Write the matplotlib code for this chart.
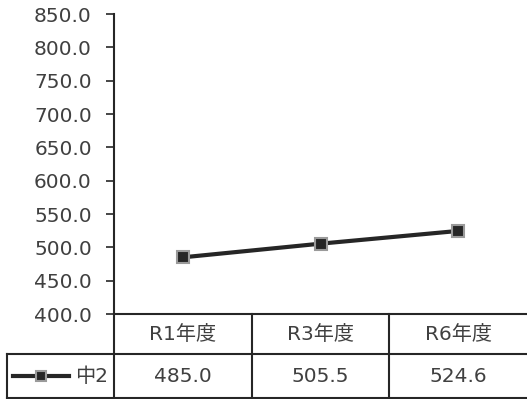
import matplotlib
matplotlib.use("Agg")
import matplotlib.pyplot as plt
from matplotlib.lines import Line2D

plt.rcParams['font.family'] = ['DejaVu Sans', 'Noto Sans CJK JP']

categories = ['R1年度', 'R3年度', 'R6年度']
series_name = '中2'
values = [485.0, 505.5, 524.6]
yticks = [400, 450, 500, 550, 600, 650, 700, 750, 800, 850]

txt = '#404040'
dark = '#262626'
fs = 14.5

fig = plt.figure(figsize=(5.27, 3.99), dpi=100)
ax = fig.add_axes([114 / 527, 85 / 399, 413 / 527, 300 / 399])

xs = [i + 0.5 for i in range(len(categories))]
ax.plot(xs, values, color=dark, lw=3, marker='s', ms=8,
        mfc=dark, mec='#9a9a9a', mew=1.5, zorder=3)

ax.set_xlim(0, len(categories))
ax.set_ylim(400, 850)
ax.set_yticks(yticks)
ax.set_yticklabels([f'{v:.1f}' for v in yticks], color=txt, fontsize=fs)
ax.tick_params(axis='y', length=6, width=1.2, color=dark, pad=10)
ax.set_xticks([])
for s in ['top', 'right']:
    ax.spines[s].set_visible(False)
for s in ['left', 'bottom']:
    ax.spines[s].set_color(dark)
    ax.spines[s].set_linewidth(1.5)

# table under the plot (x in data units, y in axes units)
tr = ax.get_xaxis_transform()
r1 = -40 / 300
r2 = -84 / 300
xl = -107 / (413 / 3)
lk = dict(color=dark, lw=1.5, transform=tr, clip_on=False)
ax.add_line(Line2D([0, 0], [0, r2], **lk))
ax.add_line(Line2D([xl, 3.2], [r1, r1], **lk))
ax.add_line(Line2D([xl, 3.2], [r2, r2], **lk))
ax.add_line(Line2D([xl, xl], [r1, r2], **lk))
for i in range(1, len(categories)):
    ax.add_line(Line2D([i, i], [0, r2], **lk))

for x, c, v in zip(xs, categories, values):
    ax.text(x, r1 / 2, c, ha='center', va='center', fontsize=fs,
            color=txt, transform=tr)
    ax.text(x, (r1 + r2) / 2, f'{v:.1f}', ha='center', va='center',
            fontsize=fs, color=txt, transform=tr)

# legend key in the row header
ym = (r1 + r2) / 2
ax.add_line(Line2D([xl + 0.04, xl + 0.45], [ym, ym], color=dark, lw=3,
                   transform=tr, clip_on=False))
ax.add_line(Line2D([xl + 0.245], [ym], marker='s', ms=7, mfc=dark,
                   mec='#9a9a9a', mew=1.5, transform=tr, clip_on=False))
ax.text(-0.04, ym, series_name, ha='right', va='center', fontsize=fs,
        color=txt, transform=tr)

fig.savefig('out.png', dpi=100)
